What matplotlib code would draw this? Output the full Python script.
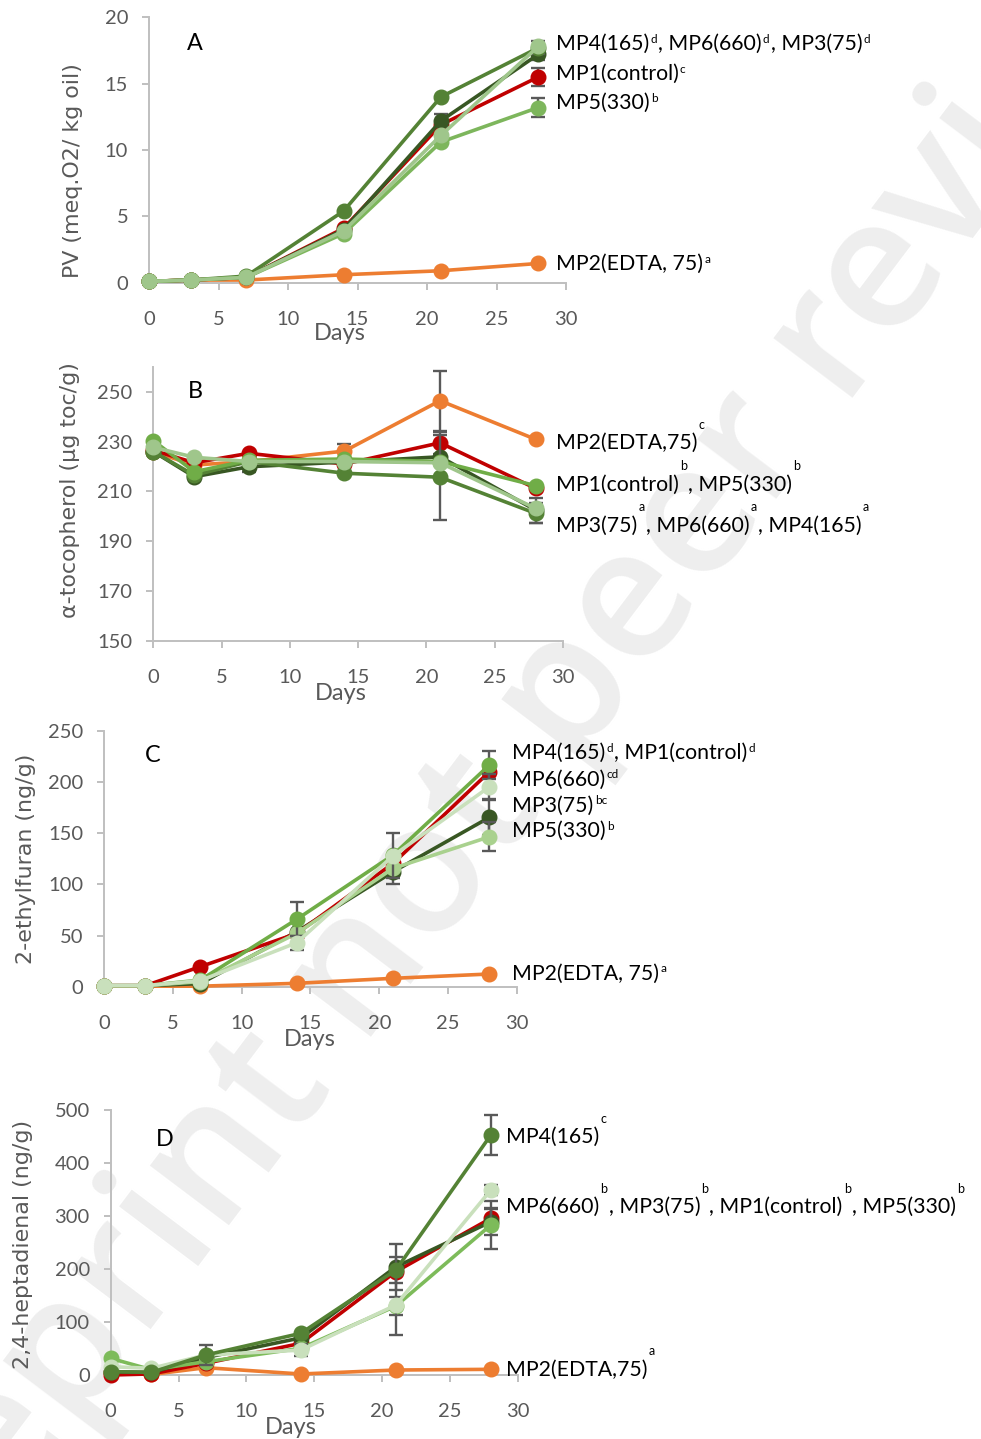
import matplotlib
matplotlib.use('Agg')
import matplotlib.pyplot as plt

plt.rcParams['font.family'] = ['Lato', 'DejaVu Sans']

W, H = 981, 1439
fig = plt.figure(figsize=(W / 100, H / 100), dpi=100)

# ---------------- data ----------------
days = [0, 3, 7, 14, 21, 28]
x_ticks = [0, 5, 10, 15, 20, 25, 30]

# Panel A: peroxide value
pv_mp1 = [0.1, 0.2, 0.4, 4.1, 11.9, 15.5]
pv_mp2 = [0.1, 0.2, 0.2, 0.6, 0.9, 1.45]
pv_mp3 = [0.1, 0.2, 0.4, 4.0, 12.2, 17.2]
pv_mp4 = [0.1, 0.2, 0.5, 5.4, 14.0, 17.7]
pv_mp5 = [0.1, 0.2, 0.4, 3.7, 10.6, 13.2]
pv_mp6 = [0.1, 0.2, 0.4, 3.9, 11.1, 17.8]
pv_err_mp1 = [0, 0, 0, 0, 0, 0.67]
pv_err_mp2 = [0, 0, 0, 0, 0, 0]
pv_err_mp3 = [0, 0, 0, 0, 0.5, 0.45]
pv_err_mp4 = [0, 0, 0, 0, 0, 0.5]
pv_err_mp5 = [0, 0, 0, 0, 0, 0.75]
pv_err_mp6 = [0, 0, 0, 0, 0, 0]

# Panel B: alpha-tocopherol
toc_mp1 = [226.5, 221.5, 225.3, 221.0, 229.5, 211.2]
toc_mp2 = [225.9, 220.6, 222.0, 226.2, 246.4, 230.9]
toc_mp3 = [226.0, 215.9, 219.9, 221.8, 223.9, 202.5]
toc_mp4 = [226.0, 216.5, 222.0, 217.3, 215.7, 201.2]
toc_mp5 = [230.4, 217.9, 222.5, 223.0, 222.0, 212.3]
toc_mp6 = [227.7, 223.7, 222.0, 222.0, 221.5, 203.2]
toc_err_mp1 = [0, 0, 0, 0, 4.5, 0]
toc_err_mp2 = [0, 0, 0, 3.0, 12.0, 0]
toc_err_mp3 = [0, 0, 2.0, 0, 0, 5.0]
toc_err_mp4 = [0, 0, 0, 0, 17.0, 4.0]
toc_err_mp5 = [0, 0, 0, 0, 0, 0]
toc_err_mp6 = [0, 0, 0, 0, 0, 0]

# Panel C: 2-ethylfuran
ef_mp1 = [1, 1, 19.6, 52.0, 120.6, 210.2]
ef_mp2 = [0.5, 0.5, 0.5, 3.3, 8.2, 12.4]
ef_mp3 = [1, 1, 3.0, 53.8, 112.4, 165.6]
ef_mp4 = [1, 1, 6.5, 65.9, 128.8, 216.8]
ef_mp5 = [1, 1, 5.0, 52.2, 115.7, 146.6]
ef_mp6 = [1, 1, 6.0, 43.0, 128.0, 195.5]
ef_err_mp1 = [0, 0, 0, 0, 0, 0]
ef_err_mp2 = [0, 0, 0, 0, 0, 0]
ef_err_mp3 = [0, 0, 0, 0, 12.0, 17.0]
ef_err_mp4 = [0, 0, 0, 16.5, 0, 14.0]
ef_err_mp5 = [0, 0, 0, 0, 0, 14.0]
ef_err_mp6 = [0, 0, 0, 7.0, 22.0, 12.0]

# Panel D: 2,4-heptadienal
hd_mp1 = [0, 2, 22.0, 59.8, 195.0, 295.6]
hd_mp2 = [6.0, 1.0, 13.8, 1.9, 9.4, 10.7]
hd_mp3 = [6.0, 5.0, 33.0, 70.0, 204.0, 289.0]
hd_mp4 = [6.3, 5.0, 37.7, 78.6, 198.0, 452.8]
hd_mp5 = [31.4, 10.0, 25.0, 50.3, 130.0, 283.0]
hd_mp6 = [15.7, 12.6, 37.7, 47.0, 132.0, 349.0]
hd_err_mp1 = [0, 0, 0, 0, 0, 20.0]
hd_err_mp2 = [0, 0, 0, 0, 0, 0]
hd_err_mp3 = [0, 0, 0, 0, 43.0, 25.0]
hd_err_mp4 = [0, 0, 19.0, 0, 25.0, 38.0]
hd_err_mp5 = [0, 0, 0, 0, 17.0, 45.0]
hd_err_mp6 = [0, 0, 0, 11.0, 56.0, 10.0]

# ---------------- style ----------------
RED, ORANGE = '#c00000', '#ed7d31'
DARK, OLIVE, MID, LIGHT, PALE = '#385723', '#548235', '#70ad47', '#a9d18e', '#c9e0bc'
AXIS_C, TICK_C, ERR_C = '#bfbfbf', '#595959', '#595959'
MAIN = 15.3


def axes_px(x0, x1, y_top, y_bot):
    return fig.add_axes([x0 / W, 1 - y_bot / H, (x1 - x0) / W, (y_bot - y_top) / H])


def style(ax, ylim, yticks):
    ax.set_facecolor('none')
    ax.set_xlim(0, 30)
    ax.set_ylim(*ylim)
    ax.set_xticks(x_ticks)
    ax.set_yticks(yticks)
    for s in ('top', 'right'):
        ax.spines[s].set_visible(False)
    for s in ('left', 'bottom'):
        ax.spines[s].set_color(AXIS_C)
        ax.spines[s].set_linewidth(1.4)
    ax.tick_params(axis='x', direction='out', length=5, width=1.4, color=AXIS_C,
                   labelcolor=TICK_C, labelsize=14.5, pad=15.5)
    ax.tick_params(axis='y', direction='out', length=5, width=1.4, color=AXIS_C,
                   labelcolor=TICK_C, labelsize=14.5, pad=10)


def series(ax, y, err, color, z):
    idx = [i for i, e in enumerate(err) if e > 0]
    if idx:
        ax.errorbar([days[i] for i in idx], [y[i] for i in idx], yerr=[err[i] for i in idx],
                    fmt='none', ecolor=ERR_C, elinewidth=1.7, capsize=4.7, capthick=1.7,
                    zorder=z - 0.5, clip_on=False)
    ax.plot(days, y, '-o', color=color, lw=2.6, ms=10.5, zorder=z, clip_on=False)


def rich(ax, x, y, pieces, main=MAIN, sup=8.5, rise=5.0):
    """pieces: list of (text, is_sup); drawn left to right from (x, y) baseline."""
    t = ax.text(x, y, pieces[0][0], fontsize=sup if pieces[0][1] else main,
                va='baseline', ha='left', color='black', clip_on=False)
    prev_size, prev_r = main, 0.0
    for s, is_sup in pieces[1:]:
        size = sup if is_sup else main
        r = rise if is_sup else 0.0
        dy = (r - prev_r) + 0.21 * (prev_size - size)
        t = ax.annotate(s, xy=(1, 0), xycoords=t, xytext=(0.8, dy), textcoords='offset points',
                        va='bottom', ha='left', fontsize=size, color='black',
                        annotation_clip=False)
        prev_size, prev_r = size, r


def fig_text(x, y, s, **kw):
    return fig.text(x / W, 1 - y / H, s, **kw)


YL = dict(fontsize=15.9, color=TICK_C, rotation=90, ha='center', va='center', family='DejaVu Sans')
DL = dict(fontsize=17, color=TICK_C, ha='center', va='center')

# watermark
fig_text(572, 690, 'Preprint not peer reviewed', rotation=53, rotation_mode='anchor',
         ha='center', va='center', fontsize=132, fontweight=600, color='#eeeeee',
         family='Open Sans', zorder=-10)

# ---------------- Panel A ----------------
axA = axes_px(149, 566, 17.3, 282.7)
style(axA, (0, 20), [0, 5, 10, 15, 20])
series(axA, pv_mp2, pv_err_mp2, ORANGE, 3)
series(axA, pv_mp1, pv_err_mp1, RED, 4)
series(axA, pv_mp3, pv_err_mp3, DARK, 5)
series(axA, pv_mp4, pv_err_mp4, OLIVE, 6)
series(axA, pv_mp5, pv_err_mp5, '#7db65c', 7)
series(axA, pv_mp6, pv_err_mp6, '#9fc68b', 8)
rich(axA, 29.28, 17.54, [('MP4(165)', 0), ('d', 1), (', MP6(660)', 0), ('d', 1), (', MP3(75)', 0), ('d', 1)])
rich(axA, 29.28, 15.28, [('MP1(control)', 0), ('c', 1)])
rich(axA, 29.28, 13.07, [('MP5(330)', 0), ('b', 1)])
rich(axA, 29.28, 0.96, [('MP2(EDTA, 75)', 0), ('a', 1)])
fig_text(187, 50, 'A', fontsize=16.8, va='baseline', ha='left')
fig_text(340, 333, 'Days', **DL)
fig_text(73, 171, 'PV (meq.O2/ kg oil)', **YL)

# ---------------- Panel B ----------------
axB = axes_px(153.3, 563, 366.8, 641)
style(axB, (150, 260), [150, 170, 190, 210, 230, 250])
series(axB, toc_mp2, toc_err_mp2, ORANGE, 3)
series(axB, toc_mp1, toc_err_mp1, RED, 4)
series(axB, toc_mp3, toc_err_mp3, DARK, 5)
series(axB, toc_mp4, toc_err_mp4, OLIVE, 6)
series(axB, toc_mp5, toc_err_mp5, MID, 7)
series(axB, toc_mp6, toc_err_mp6, '#9fc68b', 8)
BS = dict(sup=9, rise=15)
rich(axB, 29.49, 226.9, [('MP2(EDTA,75)', 0), ('c', 1)], **BS)
rich(axB, 29.49, 210.3, [('MP1(control)', 0), ('b', 1), (', MP5(330)', 0), ('b', 1)], **BS)
rich(axB, 29.49, 193.85, [('MP3(75)', 0), ('a', 1), (', MP6(660)', 0), ('a', 1), (', MP4(165)', 0), ('a', 1)], **BS)
fig_text(188, 398, 'B', fontsize=16.8, va='baseline', ha='left')
fig_text(341, 694, 'Days', **DL)
fig_text(70, 490, 'α-tocopherol (µg toc/g)', **YL)

# ---------------- Panel C ----------------
axC = axes_px(104, 517, 731, 986.7)
style(axC, (0, 250), [0, 50, 100, 150, 200, 250])
series(axC, ef_mp2, ef_err_mp2, ORANGE, 3)
series(axC, ef_mp3, ef_err_mp3, DARK, 4)
series(axC, ef_mp1, ef_err_mp1, RED, 5)
series(axC, ef_mp5, ef_err_mp5, LIGHT, 6)
series(axC, ef_mp4, ef_err_mp4, MID, 7)
series(axC, ef_mp6, ef_err_mp6, PALE, 8)
CS = dict(rise=5.5)
rich(axC, 29.66, 222.3, [('MP4(165)', 0), ('d', 1), (', MP1(control)', 0), ('d', 1)], **CS)
rich(axC, 29.66, 196.2, [('MP6(660)', 0), ('cd', 1)], **CS)
rich(axC, 29.66, 171.1, [('MP3(75)', 0), ('bc', 1)], **CS)
rich(axC, 29.66, 146.1, [('MP5(330)', 0), ('b', 1)], **CS)
rich(axC, 29.66, 6.55, [('MP2(EDTA, 75)', 0), ('a', 1)], **CS)
fig_text(145, 762, 'C', fontsize=16.8, va='baseline', ha='left')
fig_text(310, 1039, 'Days', **DL)
fig_text(26, 859, '2-ethylfuran (ng/g)', **YL)

# ---------------- Panel D ----------------
axD = axes_px(110.7, 518, 1110, 1375)
style(axD, (0, 500), [0, 100, 200, 300, 400, 500])
series(axD, hd_mp2, hd_err_mp2, ORANGE, 3)
series(axD, hd_mp1, hd_err_mp1, RED, 4)
series(axD, hd_mp3, hd_err_mp3, DARK, 5)
series(axD, hd_mp5, hd_err_mp5, '#7dbb5a', 6)
series(axD, hd_mp6, hd_err_mp6, PALE, 7)
series(axD, hd_mp4, hd_err_mp4, OLIVE, 8)
rich(axD, 29.12, 437.2, [('MP4(165)', 0), ('c', 1)], **BS)
rich(axD, 29.12, 305.1, [('MP6(660)', 0), ('b', 1), (', MP3(75)', 0), ('b', 1),
                         (', MP1(control)', 0), ('b', 1), (', MP5(330)', 0), ('b', 1)], **BS)
rich(axD, 29.12, -1.9, [('MP2(EDTA,75)', 0), ('a', 1)], **BS)
fig_text(156, 1146, 'D', fontsize=16.8, va='baseline', ha='left')
fig_text(291, 1427, 'Days', **DL)
fig_text(23, 1244, '2,4-heptadienal (ng/g)', **YL)

fig.savefig('out.png', dpi=100, facecolor='white')
